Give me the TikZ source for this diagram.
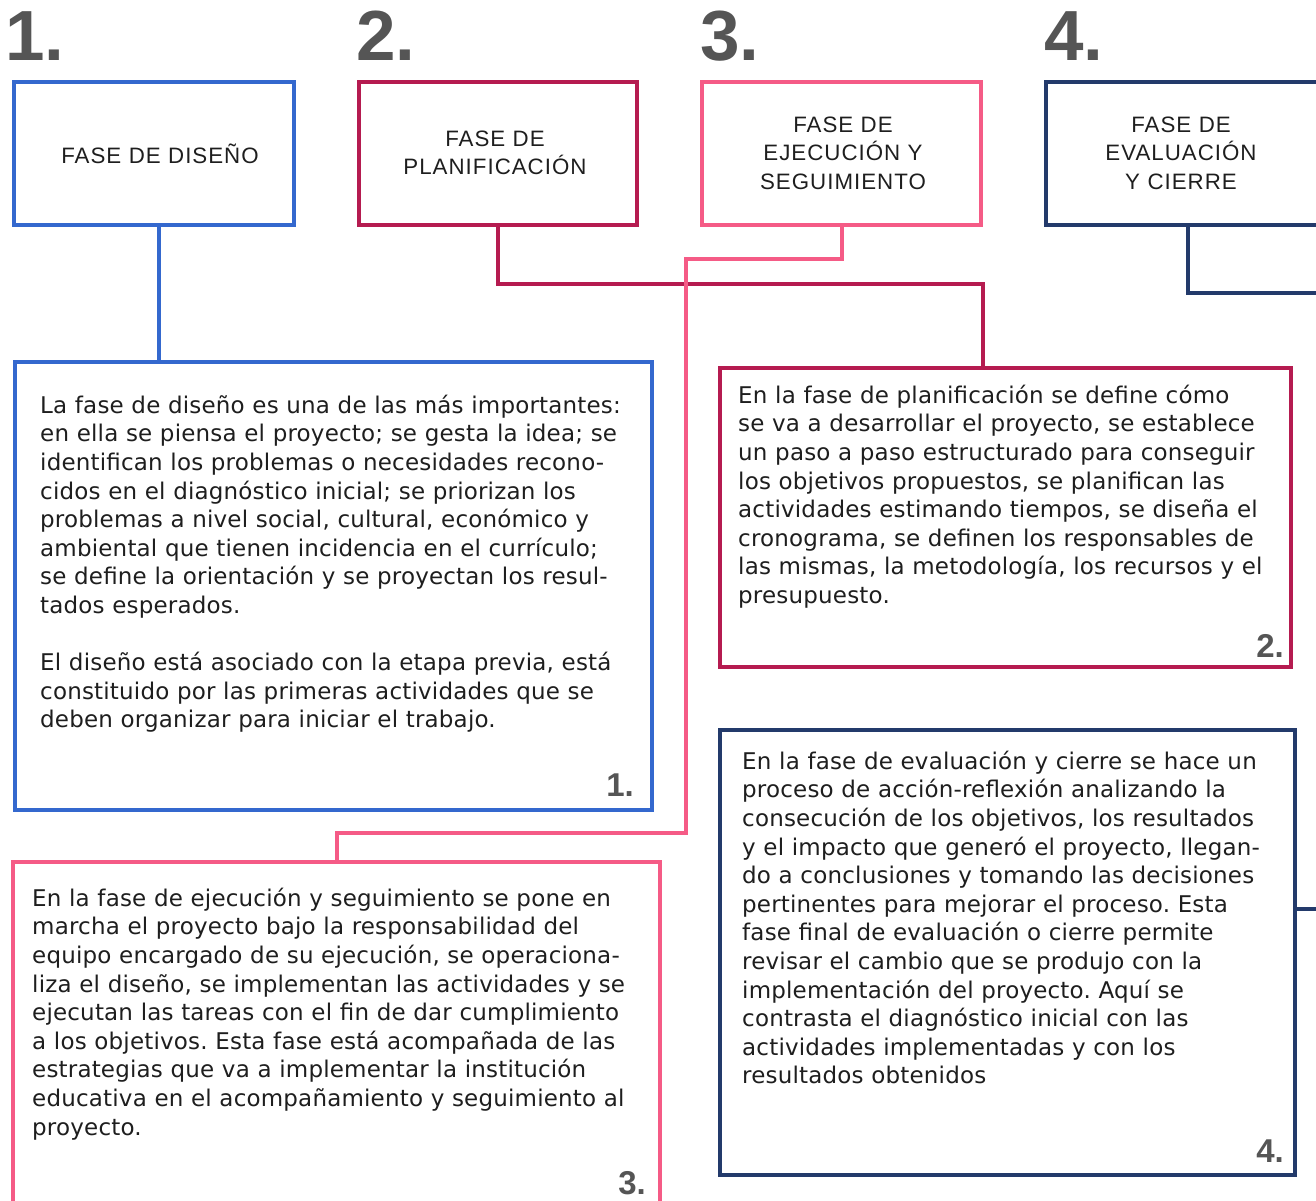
\documentclass[tikz,border=0pt]{standalone}
\usepackage{fontspec}
\setmainfont{DejaVu Sans}[LetterSpace=0.8]
\newfontfamily\headfont[LetterSpace=4.5]{Liberation Sans}
\newfontfamily\numfont{Liberation Sans}
\definecolor{cblue}{HTML}{3468CE}
\definecolor{ccrim}{HTML}{B51B50}
\definecolor{cpink}{HTML}{F55B86}
\definecolor{cnavy}{HTML}{233A6B}
\definecolor{cnum}{HTML}{555555}
\definecolor{ctext}{HTML}{1E1E1E}
\newcommand\firststrut{\rule{0pt}{25pt}}
\newcommand\headstrut{\rule{0pt}{24pt}}
\frenchspacing
\tikzset{
  box/.style={draw, line width=4pt, rectangle, inner sep=0pt},
  conn/.style={line width=4pt},
  bodytext/.style={anchor=north west, inner sep=0pt, text width=700pt, align=left,
    font=\frenchspacing\fontsize{23}{28.6}\selectfont, text=ctext},
  headtext/.style={anchor=north, inner sep=0pt, text width=300pt, align=center,
    font=\headfont\fontsize{22.3}{28.5}\selectfont, text=ctext},
  bignum/.style={anchor=base west, inner sep=0pt, font=\numfont\bfseries\fontsize{71}{71}\selectfont, text=cnum},
  smallnum/.style={anchor=base east, inner sep=0pt, font=\numfont\bfseries\fontsize{33}{33}\selectfont, text=cnum}
}
\begin{document}
\begin{tikzpicture}[x=1pt,y=-1pt]
\useasboundingbox (0,0) rectangle (1316,1200);
% big numbers
\node[bignum] (n1) at (5,60) {1.};
\node[bignum] (n2) at (356,60) {2.};
\node[bignum] (n3) at (700,60) {3.};
\node[bignum] (n4) at (1044,60) {4.};
% header boxes
\node[box, draw=cblue, minimum width=280pt, minimum height=143pt] (h1) at (154,153.5) {};
\node[box, draw=ccrim, minimum width=278pt, minimum height=143pt] (h2) at (498,153.5) {};
\node[box, draw=cpink, minimum width=279pt, minimum height=143pt] (h3) at (841.5,153.5) {};
\node[box, draw=cnavy, minimum width=284pt, minimum height=143pt] (h4) at (1188,153.5) {};
% header texts
\node[headtext] (t1) at (160,163-24) {\headstrut FASE DE DISEÑO};
\node[headtext] (t2) at (495,146-24) {\headstrut FASE DE\\PLANIFICACIÓN};
\node[headtext] (t3) at (843,132-24) {\headstrut FASE DE\\EJECUCIÓN Y\\SEGUIMIENTO};
\node[headtext] (t4) at (1181,132-24) {\headstrut FASE DE\\EVALUACIÓN\\Y CIERRE};
% body boxes
\node[box, draw=cblue, minimum width=637pt, minimum height=448pt] (b1) at (333.5,586) {};
\node[box, draw=ccrim, minimum width=571pt, minimum height=299pt] (b2) at (1005.5,517.5) {};
\node[box, draw=cpink, minimum width=647pt, minimum height=353pt] (b3) at (336.5,1038.5) {};
\node[box, draw=cnavy, minimum width=574.5pt, minimum height=445pt] (b4) at (1007.25,952.5) {};
% connectors
\draw[conn, cblue] (h1.south -| 159,0) -- (b1.north -| 159,0);
\draw[conn, ccrim] (h2.south) |- (983,284) -- (b2.north -| 983,0);
\draw[conn, cpink] (h3.south) |- (686,259) -- (686,833) -| (b3.north);
\coordinate (e4) at (1330,293);
\coordinate (e5) at (1330,909);
\draw[conn, cnavy] (h4.south) |- (e4);
\draw[conn, cnavy] (b4.east |- e5) -- (e5);
% body texts
\node[bodytext] (x1) at (40,413-25) {\firststrut La fase de diseño es una de las más importantes:\\
en ella se piensa el proyecto; se gesta la idea; se\\
identifican los problemas o necesidades recono-\\
cidos en el diagnóstico inicial; se priorizan los\\
problemas a nivel social, cultural, económico y\\
ambiental que tienen incidencia en el currículo;\\
se define la orientación y se proyectan los resul-\\
tados esperados.\\[28.6pt]
El diseño está asociado con la etapa previa, está\\
constituido por las primeras actividades que se\\
deben organizar para iniciar el trabajo.};
\node[bodytext] (x2) at (738,403-25) {\firststrut En la fase de planificación se define cómo\\
se va a desarrollar el proyecto, se establece\\
un paso a paso estructurado para conseguir\\
los objetivos propuestos, se planifican las\\
actividades estimando tiempos, se diseña el\\
cronograma, se definen los responsables de\\
las mismas, la metodología, los recursos y el\\
presupuesto.};
\node[bodytext] (x3) at (32,906-25) {\firststrut En la fase de ejecución y seguimiento se pone en\\
marcha el proyecto bajo la responsabilidad del\\
equipo encargado de su ejecución, se operaciona-\\
liza el diseño, se implementan las actividades y se\\
ejecutan las tareas con el fin de dar cumplimiento\\
a los objetivos. Esta fase está acompañada de las\\
estrategias que va a implementar la institución\\
educativa en el acompañamiento y seguimiento al\\
proyecto.};
\node[bodytext] (x4) at (742,769-25) {\firststrut En la fase de evaluación y cierre se hace un\\
proceso de acción-reflexión analizando la\\
consecución de los objetivos, los resultados\\
y el impacto que generó el proyecto, llegan-\\
do a conclusiones y tomando las decisiones\\
pertinentes para mejorar el proceso. Esta\\
fase final de evaluación o cierre permite\\
revisar el cambio que se produjo con la\\
implementación del proyecto. Aquí se\\
contrasta el diagnóstico inicial con las\\
actividades implementadas y con los\\
resultados obtenidos};
% small numbers
\node[smallnum] (s1) at (634,796) {1.};
\node[smallnum] (s2) at (1284,657) {2.};
\node[smallnum] (s3) at (646,1194) {3.};
\node[smallnum] (s4) at (1284,1162) {4.};
\end{tikzpicture}
\end{document}
